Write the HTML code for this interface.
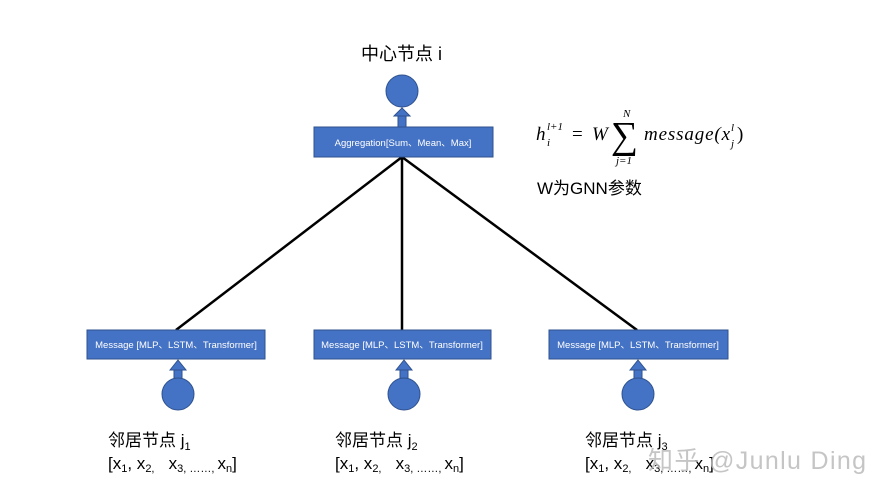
<!DOCTYPE html>
<html><head><meta charset="utf-8"><style>
body{margin:0;background:#fff;width:887px;height:500px;overflow:hidden;font-family:"Liberation Sans","Noto Sans CJK SC",sans-serif}
</style></head><body>
<svg width="887" height="500" xmlns="http://www.w3.org/2000/svg" style="position:absolute;left:0;top:0">
<g stroke="#000" stroke-width="2.5">
<line x1="402" y1="157" x2="176" y2="330"/>
<line x1="402" y1="157" x2="402" y2="330"/>
<line x1="402" y1="157" x2="637" y2="330"/>
</g>
<g fill="#4472C4" stroke="#2F528F" stroke-width="1">
<circle cx="402" cy="91" r="16"/>
<rect x="398" y="114" width="8" height="13"/><polygon points="394,116 402,108 410,116"/>
<rect x="314" y="127" width="179" height="30"/>
<rect x="87" y="330" width="178" height="29"/>
<rect x="314" y="330" width="177" height="29"/>
<rect x="549" y="330" width="179" height="29"/>
<g id="a"><rect x="174" y="368" width="8" height="12"/><polygon points="170,370 178,360 186,370"/><circle cx="178" cy="394" r="16"/></g>
<use href="#a" x="226"/>
<use href="#a" x="460"/>
</g>
<g fill="#fff" font-size="9.5" text-anchor="middle" font-family="Liberation Sans,Noto Sans CJK SC,sans-serif">
<text x="403" y="146">Aggregation[Sum、Mean、Max]</text>
<text x="176" y="348">Message [MLP、LSTM、Transformer]</text>
<text x="402" y="348">Message [MLP、LSTM、Transformer]</text>
<text x="638" y="348">Message [MLP、LSTM、Transformer]</text>
</g>
<g fill="#000" font-family="Liberation Sans,Noto Sans CJK SC,sans-serif">
<text x="361" y="60" font-size="18">中心节点 i</text>
<text x="537" y="194" font-size="17">W为GNN参数</text>
<g font-family="Liberation Serif,serif" font-style="italic">
<text x="536" y="140" font-size="19">h</text>
<text x="547" y="130" font-size="11">l+1</text>
<text x="547" y="146" font-size="11">i</text>
<text x="572" y="140" font-size="19" font-style="normal">=</text>
<text x="592" y="140" font-size="19">W</text>
<text x="611" y="148" font-size="38" font-style="normal">∑</text>
<text x="623" y="117" font-size="11">N</text>
<text x="616" y="164" font-size="11">j=1</text>
<text x="644" y="140" font-size="19" textLength="86">message(x</text>
<text x="731" y="131" font-size="11">l</text>
<text x="731" y="147" font-size="11">j</text>
<text x="737" y="140" font-size="19" font-style="normal">)</text>
</g>
<g font-size="17">
<text x="108" y="446">邻居节点 j<tspan font-size="11" dy="4">1</tspan></text>
<text x="108" y="469">[x<tspan font-size="11" dy="3">1</tspan><tspan dy="-3">, x</tspan><tspan font-size="11" dy="3">2,</tspan><tspan dy="-3" xml:space="preserve">   x</tspan><tspan font-size="11" dy="3">3,  ……, </tspan><tspan dy="-3">x</tspan><tspan font-size="11" dy="3">n</tspan><tspan dy="-3">]</tspan></text>
<text x="335" y="446">邻居节点 j<tspan font-size="11" dy="4">2</tspan></text>
<text x="335" y="469">[x<tspan font-size="11" dy="3">1</tspan><tspan dy="-3">, x</tspan><tspan font-size="11" dy="3">2,</tspan><tspan dy="-3" xml:space="preserve">   x</tspan><tspan font-size="11" dy="3">3,  ……, </tspan><tspan dy="-3">x</tspan><tspan font-size="11" dy="3">n</tspan><tspan dy="-3">]</tspan></text>
<text x="585" y="446">邻居节点 j<tspan font-size="11" dy="4">3</tspan></text>
<text x="585" y="469">[x<tspan font-size="11" dy="3">1</tspan><tspan dy="-3">, x</tspan><tspan font-size="11" dy="3">2,</tspan><tspan dy="-3" xml:space="preserve">   x</tspan><tspan font-size="11" dy="3">3,  ……, </tspan><tspan dy="-3">x</tspan><tspan font-size="11" dy="3">n</tspan><tspan dy="-3">]</tspan></text>
</g>
<text x="648" y="469" font-size="25" fill="#bbb" opacity="0.85" textLength="218">知乎 @Junlu Ding</text>
</g>
</svg>
</body></html>
